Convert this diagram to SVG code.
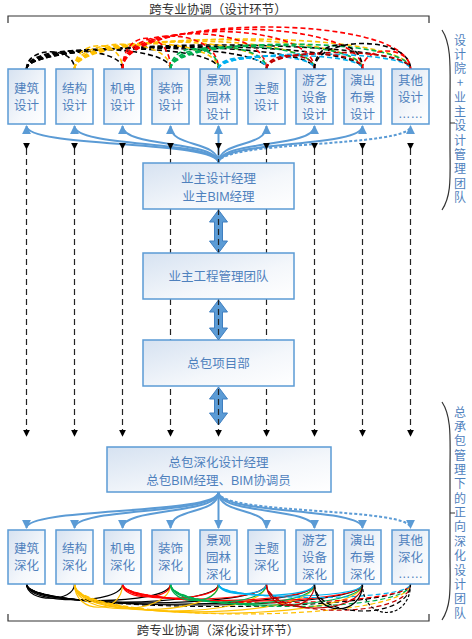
<svg xmlns="http://www.w3.org/2000/svg" width="472" height="639" viewBox="0 0 472 639">
<defs>
<linearGradient id="bg" x1="0" y1="0" x2="1" y2="1">
<stop offset="0" stop-color="#d6e2f1"/><stop offset="0.6" stop-color="#f4f7fb"/><stop offset="1" stop-color="#ffffff"/>
</linearGradient>
<marker id="ba" viewBox="0 0 10 10" refX="9" refY="5" markerWidth="9" markerHeight="9" markerUnits="userSpaceOnUse" orient="auto"><path d="M0,0 L10,5 L0,10 z" fill="#5b9bd5"/></marker>
<marker id="ka" viewBox="0 0 10 10" refX="9" refY="5" markerWidth="7" markerHeight="7" markerUnits="userSpaceOnUse" orient="auto"><path d="M0,0 L10,5 L0,10 z" fill="#000"/></marker>
</defs>
<style>
.box{fill:url(#bg);stroke:#5b9bd5;stroke-width:1.5}
.t{font-family:"Liberation Sans","Noto Sans CJK SC",sans-serif;font-size:12.5px;fill:#4f81bd;text-anchor:middle}
.title{font-family:"Liberation Sans","Noto Sans CJK SC",sans-serif;font-size:12.5px;fill:#333;text-anchor:middle}
.side{font-family:"Noto Sans CJK SC","Noto Sans",sans-serif;font-size:12px;fill:#4f81bd;text-anchor:start;writing-mode:vertical-rl;text-orientation:upright}
.br{fill:none;stroke:#333;stroke-width:1.2}
.fan{fill:none;stroke:#5b9bd5;stroke-width:2;marker-end:url(#ba)}
.dot{stroke-dasharray:3,2}
.vd{fill:none;stroke:#222;stroke-width:1.2;stroke-dasharray:6,4;marker-start:url(#ka);marker-end:url(#ka)}
.dbl{fill:#5b9bd5;stroke:#3f7fc0;stroke-width:1}
.ta{fill:none;stroke-width:1.6;stroke-dasharray:5,3}
.ba{fill:none;stroke-width:1.2}
.bd{stroke-dasharray:5,3}
.k{stroke:#000}.y{stroke:#ffc000}.r{stroke:#ff0000}.g{stroke:#00b050}.c{stroke:#00b0f0}.d{stroke:#c00000}
</style>
<rect width="472" height="639" fill="#fff"/>

<!-- brackets and titles -->
<g id="top-bracket">
<path class="br" d="M8,23 L8,16 L429,16 L429,23"/>
<text class="title" x="218" y="13.5">跨专业协调（设计环节）</text>
</g>
<g id="bottom-bracket">
<path class="br" d="M8,614 L8,621 L429,621 L429,614"/>
<text class="title" x="218" y="635">跨专业协调（深化设计环节）</text>
</g>
<g id="brace-top">
<path class="br" d="M442,30 C452,45 450,70 450,100 L450,146 C450,176 452,195 442,210 M450,123 L455,123"/>
<text class="side" x="460" y="34" style="letter-spacing:2.3px">设计院+业主设计管理团队</text>
</g>
<g id="brace-bottom">
<path class="br" d="M442,402 C452,417 450,440 450,470 L450,556 C450,586 452,605 442,620 M450,513 L455,513"/>
<text class="side" x="460" y="406" style="letter-spacing:2.36px">总承包管理下的正向深化设计团队</text>
</g>

<g id="connectors">
<!-- top cross-discipline dashed arcs -->
<g id="top-arcs">
<path class="ta k" d="M26.5,69 C26.5,46 74.5,46 74.5,69"/>
<path class="ta k" d="M26.5,69 C26.5,45 122.5,45 122.5,69"/>
<path class="ta k" d="M26.5,69 C26.5,43 170.5,43 170.5,69"/>
<path class="ta k" d="M26.5,69 C26.5,42 218.5,42 218.5,69"/>
<path class="ta k" d="M26.5,69 C26.5,41 266.5,41 266.5,69"/>
<path class="ta k" d="M26.5,69 C26.5,40 314.5,40 314.5,69"/>
<path class="ta k" d="M26.5,69 C26.5,39 362.5,39 362.5,69"/>
<path class="ta k" d="M26.5,69 C26.5,37 410.5,37 410.5,69"/>
<path class="ta y" d="M74.5,69 C74.5,38 122.5,38 122.5,69"/>
<path class="ta y" d="M74.5,69 C74.5,36 170.5,36 170.5,69"/>
<path class="ta y" d="M74.5,69 C74.5,35 218.5,35 218.5,69"/>
<path class="ta y" d="M74.5,69 C74.5,33 266.5,33 266.5,69"/>
<path class="ta y" d="M74.5,69 C74.5,32 314.5,32 314.5,69"/>
<path class="ta y" d="M74.5,69 C74.5,30 362.5,30 362.5,69"/>
<path class="ta y" d="M74.5,69 C74.5,29 410.5,29 410.5,69"/>
<path class="ta r" d="M122.5,69 C122.5,28 170.5,28 170.5,69"/>
<path class="ta r" d="M122.5,69 C122.5,25 218.5,25 218.5,69"/>
<path class="ta r" d="M122.5,69 C122.5,22 266.5,22 266.5,69"/>
<path class="ta r" d="M122.5,69 C122.5,19 314.5,19 314.5,69"/>
<path class="ta r" d="M122.5,69 C122.5,16 362.5,16 362.5,69"/>
<path class="ta r" d="M122.5,69 C122.5,13 410.5,13 410.5,69"/>
<path class="ta g" d="M170.5,69 C170.5,42 218.5,42 218.5,69"/>
<path class="ta g" d="M170.5,69 C170.5,40 266.5,40 266.5,69"/>
<path class="ta g" d="M170.5,69 C170.5,39 314.5,39 314.5,69"/>
<path class="ta g" d="M170.5,69 C170.5,37 362.5,37 362.5,69"/>
<path class="ta g" d="M170.5,69 C170.5,36 410.5,36 410.5,69"/>
<path class="ta c" d="M218.5,69 C218.5,54 266.5,54 266.5,69"/>
<path class="ta c" d="M218.5,69 C218.5,52 314.5,52 314.5,69"/>
<path class="ta c" d="M218.5,69 C218.5,51 362.5,51 362.5,69"/>
<path class="ta c" d="M218.5,69 C218.5,49 410.5,49 410.5,69"/>
<path class="ta d" d="M266.5,69 C266.5,51 314.5,51 314.5,69"/>
<path class="ta d" d="M266.5,69 C266.5,49 362.5,49 362.5,69"/>
<path class="ta d" d="M266.5,69 C266.5,47 410.5,47 410.5,69"/>
<path class="ta k" d="M314.5,69 C314.5,37 362.5,37 362.5,69"/>
<path class="ta k" d="M314.5,69 C314.5,35 410.5,35 410.5,69"/>
<path class="ta r" d="M362.5,69 C362.5,45 410.5,45 410.5,69"/>
</g>

<!-- bottom cross-discipline arcs -->
<g id="bottom-arcs">
<path class="ba k" d="M26.5,584 C26.5,603 74.5,603 74.5,584"/>
<path class="ba k" d="M26.5,584 C26.5,605 122.5,605 122.5,584"/>
<path class="ba k" d="M26.5,584 C26.5,606 170.5,606 170.5,584"/>
<path class="ba k" d="M26.5,584 C26.5,608 218.5,608 218.5,584"/>
<path class="ba k" d="M26.5,584 C26.5,609 266.5,609 266.5,584"/>
<path class="ba k" d="M26.5,584 C26.5,611 314.5,611 314.5,584"/>
<path class="ba k" d="M26.5,584 C26.5,612 362.5,612 362.5,584"/>
<path class="ba k bd" d="M26.5,584 C26.5,614 410.5,614 410.5,584"/>
<path class="ba y" d="M74.5,584 C74.5,615 122.5,615 122.5,584"/>
<path class="ba y" d="M74.5,584 C74.5,617 170.5,617 170.5,584"/>
<path class="ba y" d="M74.5,584 C74.5,618 218.5,618 218.5,584"/>
<path class="ba y" d="M74.5,584 C74.5,620 266.5,620 266.5,584"/>
<path class="ba y" d="M74.5,584 C74.5,621 314.5,621 314.5,584"/>
<path class="ba y" d="M74.5,584 C74.5,623 362.5,623 362.5,584"/>
<path class="ba y bd" d="M74.5,584 C74.5,624 410.5,624 410.5,584"/>
<path class="ba r" d="M122.5,584 C122.5,601 170.5,601 170.5,584"/>
<path class="ba r" d="M122.5,584 C122.5,603 218.5,603 218.5,584"/>
<path class="ba r" d="M122.5,584 C122.5,604 266.5,604 266.5,584"/>
<path class="ba r" d="M122.5,584 C122.5,606 314.5,606 314.5,584"/>
<path class="ba r" d="M122.5,584 C122.5,607 362.5,607 362.5,584"/>
<path class="ba r bd" d="M122.5,584 C122.5,609 410.5,609 410.5,584"/>
<path class="ba g" d="M170.5,584 C170.5,606 218.5,606 218.5,584"/>
<path class="ba g" d="M170.5,584 C170.5,608 266.5,608 266.5,584"/>
<path class="ba g" d="M170.5,584 C170.5,610 314.5,610 314.5,584"/>
<path class="ba g" d="M170.5,584 C170.5,612 362.5,612 362.5,584"/>
<path class="ba g bd" d="M170.5,584 C170.5,614 410.5,614 410.5,584"/>
<path class="ba c" d="M218.5,584 C218.5,597 266.5,597 266.5,584"/>
<path class="ba c" d="M218.5,584 C218.5,599 314.5,599 314.5,584"/>
<path class="ba c" d="M218.5,584 C218.5,600 362.5,600 362.5,584"/>
<path class="ba c bd" d="M218.5,584 C218.5,602 410.5,602 410.5,584"/>
<path class="ba d" d="M266.5,584 C266.5,613 314.5,613 314.5,584"/>
<path class="ba d" d="M266.5,584 C266.5,616 362.5,616 362.5,584"/>
<path class="ba d bd" d="M266.5,584 C266.5,619 410.5,619 410.5,584"/>
<path class="ba k" d="M314.5,584 C314.5,617 362.5,617 362.5,584"/>
<path class="ba k bd" d="M314.5,584 C314.5,620 410.5,620 410.5,584"/>
<path class="ba k dot" d="M362.5,584 C362.5,622 410.5,622 410.5,584"/>
</g>

<!-- blue fan from owner design manager -->
<g id="fan-top">
<path class="fan" d="M218.5,163 C218.5,140 26.5,148 26.5,126"/>
<path class="fan" d="M218.5,163 C218.5,140 74.5,148 74.5,126"/>
<path class="fan" d="M218.5,163 C218.5,140 122.5,148 122.5,126"/>
<path class="fan" d="M218.5,163 C218.5,140 170.5,148 170.5,126"/>
<path class="fan" d="M218.5,163 L218.5,126"/>
<path class="fan" d="M218.5,163 C218.5,140 266.5,148 266.5,126"/>
<path class="fan" d="M218.5,163 C218.5,140 314.5,148 314.5,126"/>
<path class="fan" d="M218.5,163 C218.5,140 362.5,148 362.5,126"/>
<path class="fan dot" d="M218.5,163 C218.5,140 410.5,148 410.5,126"/>
</g>
<!-- blue fan to deepening boxes -->
<g id="fan-bottom">
<path class="fan" d="M218.5,492 C218.5,515 26.5,507 26.5,528"/>
<path class="fan" d="M218.5,492 C218.5,515 74.5,507 74.5,528"/>
<path class="fan" d="M218.5,492 C218.5,515 122.5,507 122.5,528"/>
<path class="fan" d="M218.5,492 C218.5,515 170.5,507 170.5,528"/>
<path class="fan" d="M218.5,492 L218.5,528"/>
<path class="fan" d="M218.5,492 C218.5,515 266.5,507 266.5,528"/>
<path class="fan" d="M218.5,492 C218.5,515 314.5,507 314.5,528"/>
<path class="fan" d="M218.5,492 C218.5,515 362.5,507 362.5,528"/>
<path class="fan dot" d="M218.5,492 C218.5,515 410.5,507 410.5,528"/>
</g>
<!-- double arrows -->
<g id="double-arrows">
<polygon class="dbl" points="218.5,210 227.5,222 222.5,222 222.5,241 227.5,241 218.5,253 209.5,241 214.5,241 214.5,222 209.5,222"/>
<polygon class="dbl" points="218.5,300 227.5,312 222.5,312 222.5,328 227.5,328 218.5,340 209.5,328 214.5,328 214.5,312 209.5,312"/>
<polygon class="dbl" points="218.5,387 227.5,399 222.5,399 222.5,413 227.5,413 218.5,425 209.5,413 214.5,413 214.5,399 209.5,399"/>
</g>
<!-- vertical dashed links -->
<g id="vertical-links">
<path class="vd" d="M26.5,149 L26.5,436"/>
<path class="vd" d="M74.5,149 L74.5,436"/>
<path class="vd" d="M122.5,149 L122.5,436"/>
<path class="vd" d="M170.5,149 L170.5,436"/>
<path class="vd" d="M218.5,149 L218.5,436"/>
<path class="vd" d="M266.5,149 L266.5,436"/>
<path class="vd" d="M314.5,149 L314.5,436"/>
<path class="vd" d="M362.5,149 L362.5,436"/>
<path class="vd" d="M410.5,149 L410.5,436"/>
</g>
</g>

<!-- design boxes -->
<g id="d1"><rect class="box" x="8" y="69" width="37" height="55"/><text class="t" x="26.5" y="93">建筑</text><text class="t" x="26.5" y="110">设计</text></g>
<g id="d2"><rect class="box" x="56" y="69" width="37" height="55"/><text class="t" x="74.5" y="93">结构</text><text class="t" x="74.5" y="110">设计</text></g>
<g id="d3"><rect class="box" x="104" y="69" width="37" height="55"/><text class="t" x="122.5" y="93">机电</text><text class="t" x="122.5" y="110">设计</text></g>
<g id="d4"><rect class="box" x="152" y="69" width="37" height="55"/><text class="t" x="170.5" y="93">装饰</text><text class="t" x="170.5" y="110">设计</text></g>
<g id="d5"><rect class="box" x="200" y="69" width="37" height="55"/><text class="t" x="218.5" y="85">景观</text><text class="t" x="218.5" y="102">园林</text><text class="t" x="218.5" y="119">设计</text></g>
<g id="d6"><rect class="box" x="248" y="69" width="37" height="55"/><text class="t" x="266.5" y="93">主题</text><text class="t" x="266.5" y="110">设计</text></g>
<g id="d7"><rect class="box" x="296" y="69" width="37" height="55"/><text class="t" x="314.5" y="85">游艺</text><text class="t" x="314.5" y="102">设备</text><text class="t" x="314.5" y="119">设计</text></g>
<g id="d8"><rect class="box" x="344" y="69" width="37" height="55"/><text class="t" x="362.5" y="85">演出</text><text class="t" x="362.5" y="102">布景</text><text class="t" x="362.5" y="119">设计</text></g>
<g id="d9"><rect class="box" x="392" y="69" width="37" height="55"/><text class="t" x="410.5" y="85">其他</text><text class="t" x="410.5" y="102">设计</text><text class="t" x="410.5" y="118">……</text></g>

<!-- management boxes -->
<g id="m1"><rect class="box" x="143" y="163" width="151" height="46"/><text class="t" x="218.5" y="183">业主设计经理</text><text class="t" x="218.5" y="201">业主BIM经理</text></g>
<g id="m2"><rect class="box" x="143" y="253" width="151" height="46"/><text class="t" x="218.5" y="281">业主工程管理团队</text></g>
<g id="m3"><rect class="box" x="143" y="340" width="151" height="46"/><text class="t" x="218.5" y="368">总包项目部</text></g>
<g id="m4"><rect class="box" x="107" y="447" width="224" height="45"/><text class="t" x="218.5" y="467">总包深化设计经理</text><text class="t" x="218.5" y="485">总包BIM经理、BIM协调员</text></g>

<!-- deepening boxes -->
<g id="s1"><rect class="box" x="8" y="530" width="37" height="54"/><text class="t" x="26.5" y="553">建筑</text><text class="t" x="26.5" y="570">深化</text></g>
<g id="s2"><rect class="box" x="56" y="530" width="37" height="54"/><text class="t" x="74.5" y="553">结构</text><text class="t" x="74.5" y="570">深化</text></g>
<g id="s3"><rect class="box" x="104" y="530" width="37" height="54"/><text class="t" x="122.5" y="553">机电</text><text class="t" x="122.5" y="570">深化</text></g>
<g id="s4"><rect class="box" x="152" y="530" width="37" height="54"/><text class="t" x="170.5" y="553">装饰</text><text class="t" x="170.5" y="570">深化</text></g>
<g id="s5"><rect class="box" x="200" y="530" width="37" height="54"/><text class="t" x="218.5" y="545">景观</text><text class="t" x="218.5" y="562">园林</text><text class="t" x="218.5" y="579">深化</text></g>
<g id="s6"><rect class="box" x="248" y="530" width="37" height="54"/><text class="t" x="266.5" y="553">主题</text><text class="t" x="266.5" y="570">深化</text></g>
<g id="s7"><rect class="box" x="296" y="530" width="37" height="54"/><text class="t" x="314.5" y="545">游艺</text><text class="t" x="314.5" y="562">设备</text><text class="t" x="314.5" y="579">深化</text></g>
<g id="s8"><rect class="box" x="344" y="530" width="37" height="54"/><text class="t" x="362.5" y="545">演出</text><text class="t" x="362.5" y="562">布景</text><text class="t" x="362.5" y="579">深化</text></g>
<g id="s9"><rect class="box" x="392" y="530" width="37" height="54"/><text class="t" x="410.5" y="545">其他</text><text class="t" x="410.5" y="562">深化</text><text class="t" x="410.5" y="578">……</text></g>
</svg>
